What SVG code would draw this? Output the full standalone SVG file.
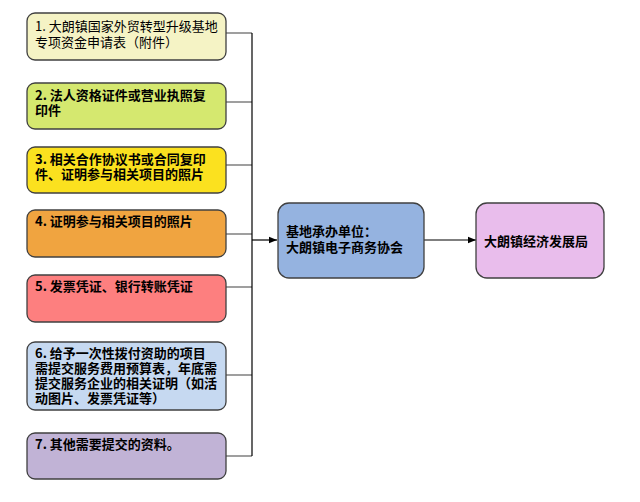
<svg xmlns="http://www.w3.org/2000/svg" width="640" height="502" viewBox="0 0 640 502">
<style>
.b{stroke:#404040;stroke-width:1.3}
.t{font-family:"Noto Sans CJK SC","Noto Sans",sans-serif;font-size:13px;font-weight:bold;fill:#000}
.n{font-weight:normal}
.g{stroke:#808080;stroke-width:1.5;fill:none}
.k{stroke:#000;stroke-width:1.2;fill:none}
</style>
<defs>
<marker id="ah" viewBox="0 0 10 10" refX="10" refY="5" markerWidth="8" markerHeight="8" markerUnits="userSpaceOnUse" orient="auto"><path d="M0,1 L10,5 L0,9 z" fill="#000"/></marker>
</defs>
<rect width="640" height="502" fill="#fff"/>
<g id="connectors">
<path class="g" d="M226,33 H252 M226,102 H252 M226,165 H252 M226,234 H252 M226,287 H252 M226,375 H252 M226,456 H252"/>
<path class="k" d="M252,33 V456"/>
<path class="k" d="M252,240 H277" marker-end="url(#ah)"/>
<path class="k" d="M424,240 H476" marker-end="url(#ah)"/>
</g>
<g id="n1"><rect class="b" x="27" y="13" width="199" height="47" rx="8" fill="#f5f3c5"/>
<text class="t n" x="35" y="31">1. 大朗镇国家外贸转型升级基地</text><text class="t n" x="35" y="47">专项资金申请表（附件）</text></g>
<g id="n2"><rect class="b" x="27" y="83" width="199" height="46" rx="8" fill="#d5e86f"/>
<text class="t" x="35" y="100">2. 法人资格证件或营业执照复</text><text class="t" x="35" y="115">印件</text></g>
<g id="n3"><rect class="b" x="27" y="147" width="199" height="46" rx="8" fill="#fbe11f"/>
<text class="t" x="35" y="164">3. 相关合作协议书或合同复印</text><text class="t" x="35" y="179">件、证明参与相关项目的照片</text></g>
<g id="n4"><rect class="b" x="27" y="210" width="199" height="47" rx="8" fill="#f0a440"/>
<text class="t" x="35" y="226">4. 证明参与相关项目的照片</text></g>
<g id="n5"><rect class="b" x="27" y="275" width="199" height="47" rx="8" fill="#fd7f7f"/>
<text class="t" x="35" y="291">5. 发票凭证、银行转账凭证</text></g>
<g id="n6"><rect class="b" x="27" y="342" width="199" height="68" rx="8" fill="#c6d9f1"/>
<text class="t" x="35" y="358">6. 给予一次性拨付资助的项目</text><text class="t" x="35" y="373">需提交服务费用预算表，年底需</text><text class="t" x="35" y="388">提交服务企业的相关证明（如活</text><text class="t" x="35" y="403">动图片、发票凭证等）</text></g>
<g id="n7"><rect class="b" x="27" y="433" width="199" height="46" rx="8" fill="#c1b3d6"/>
<text class="t" x="35" y="449">7. 其他需要提交的资料。</text></g>
<g id="center"><rect class="b" x="278" y="203" width="146" height="75" rx="11" fill="#95b3e0"/>
<text class="t" x="286" y="236">基地承办单位：</text><text class="t" x="286" y="252">大朗镇电子商务协会</text></g>
<g id="right"><rect class="b" x="476" y="203" width="128" height="75" rx="11" fill="#e9bdec"/>
<text class="t" x="484" y="246">大朗镇经济发展局</text></g>
</svg>
